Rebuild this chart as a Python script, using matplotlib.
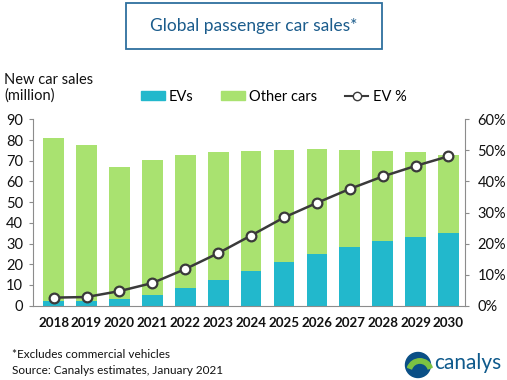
import matplotlib.pyplot as plt
from matplotlib.patches import Rectangle, Circle, Wedge
from matplotlib.lines import Line2D

plt.rcParams['font.family'] = ['Lato', 'DejaVu Sans']

years = ['2018', '2019', '2020', '2021', '2022', '2023', '2024',
         '2025', '2026', '2027', '2028', '2029', '2030']
total_sales = [81.0, 77.6, 66.9, 70.3, 72.8, 74.1, 74.7, 75.2, 75.5, 75.4, 74.9, 74.2, 72.8]
ev_sales = [2.1, 2.3, 3.2, 5.2, 8.6, 12.6, 16.9, 21.3, 25.0, 28.4, 31.3, 33.4, 35.1]
ev_share = [2.6, 2.8, 4.7, 7.3, 11.8, 16.9, 22.6, 28.4, 33.1, 37.6, 41.6, 45.0, 48.1]

other_sales = [t - e for t, e in zip(total_sales, ev_sales)]

ev_col = '#22b8cc'
other_col = '#a9e270'
line_col = '#3a3a3a'
blue = '#1b5c8c'
axis_col = '#8c8c8c'
txt = '#111111'

fig = plt.figure(figsize=(5.07, 3.8), dpi=100)
ax = fig.add_axes([0.065, 0.1955, 0.852, 0.4905])
x = list(range(len(years)))
ax.bar(x, ev_sales, width=0.63, color=ev_col, zorder=2)
ax.bar(x, other_sales, bottom=ev_sales, width=0.63, color=other_col, zorder=2)
ax.set_ylim(0, 90)
ax.set_xlim(-0.63, 12.5)
ax.set_yticks(range(0, 91, 10))
ax.set_xticks(x)
ax.set_xticklabels(years, fontsize=9.6, color=txt, fontweight='bold')
ax.tick_params(axis='x', length=0, pad=8)
ax.tick_params(axis='y', labelsize=10.5, length=3, color=axis_col, pad=4, labelcolor=txt)
for s in ['top', 'right']:
    ax.spines[s].set_visible(False)
for s in ['left', 'bottom']:
    ax.spines[s].set_color(axis_col)

ax2 = ax.twinx()
ax2.plot(x, ev_share, color=line_col, lw=1.8, marker='o', ms=7,
         markerfacecolor='white', markeredgecolor=line_col, markeredgewidth=1.6, zorder=3)
ax2.set_ylim(0, 60)
ax2.set_yticks(range(0, 61, 10))
ax2.set_yticklabels([f'{v}%' for v in range(0, 61, 10)])
ax2.tick_params(axis='y', labelsize=10.5, length=3, color=axis_col, pad=6, labelcolor=txt)
for s in ['top', 'left', 'bottom']:
    ax2.spines[s].set_visible(False)
ax2.spines['right'].set_color(axis_col)

# y label
fig.text(0.008, 0.73, 'New car sales\n(million)', fontsize=10.5,
         color=txt, va='bottom', ha='left', linespacing=1.15)

# legend
handles = [Rectangle((0, 0), 1, 1, color=ev_col),
           Rectangle((0, 0), 1, 1, color=other_col),
           Line2D([], [], color=line_col, marker='o', markerfacecolor='white',
                  markeredgecolor=line_col, ms=6, lw=1.5)]
fig.legend(handles, ['EVs', 'Other cars', 'EV %'], loc='center', ncol=3,
           bbox_to_anchor=(0.54, 0.745), frameon=False, fontsize=10.5,
           handlelength=1.6, handleheight=0.6, columnspacing=1.9, handletextpad=0.3)

# title box
fig.patches.append(Rectangle((126 / 507, 1 - 49 / 380), 256 / 507, 46 / 380,
                             transform=fig.transFigure, fill=False,
                             edgecolor='#2e6f9e', lw=1.3))
fig.text(254 / 507, 1 - 26 / 380, 'Global passenger car sales*', ha='center',
         va='center', fontsize=12.5, color=blue)

# footnotes
fig.text(12 / 507, 1 - 354 / 380, '*Excludes commercial vehicles', fontsize=8.5,
         va='center', color=txt)
fig.text(12 / 507, 1 - 370 / 380, 'Source: Canalys estimates, January 2021', fontsize=8.5,
         va='center', color=txt)

# logo
lax = fig.add_axes([398 / 507, 0, 40 / 507, 30 / 380])
lax.set_xlim(-1.6, 1.6)
lax.set_ylim(-1.2, 1.2)
lax.set_aspect('equal')
lax.axis('off')
lax.add_patch(Circle((0, 0), 1.0, color='#0a4f86'))
lax.add_patch(Wedge((0.15, -0.55), 1.05, 20, 160, width=0.35, color='#7cc242'))
fig.text(434 / 507, 1 - 363 / 380, 'canalys', fontsize=15, color='#0f5a8c',
         va='center', ha='left')

fig.savefig('out.png', dpi=100)
